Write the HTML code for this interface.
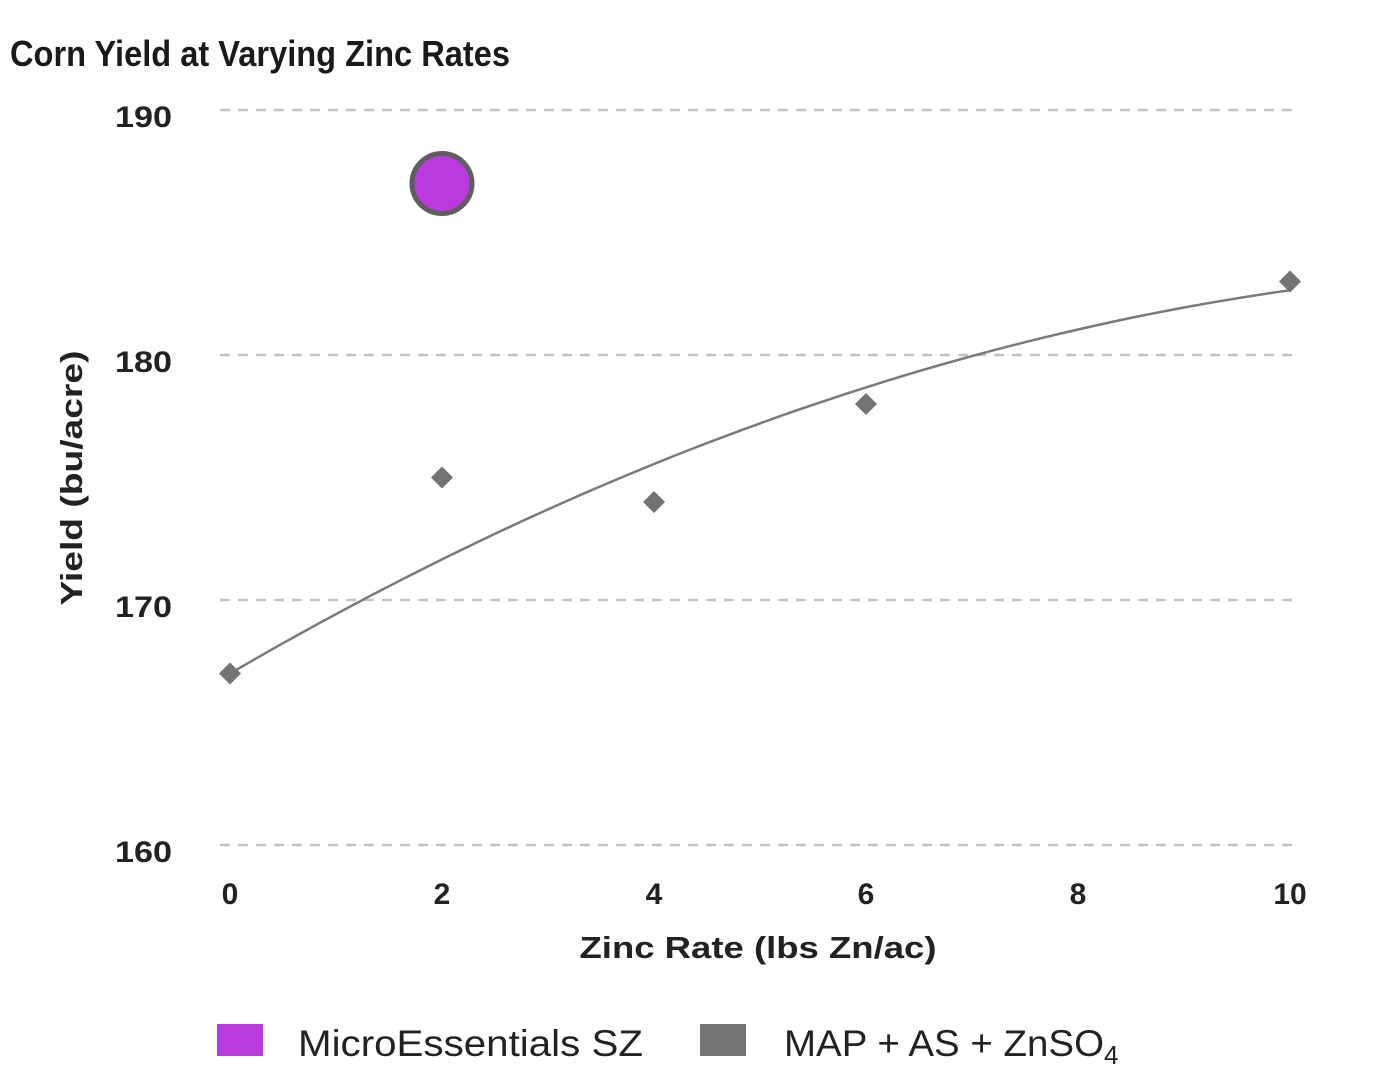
<!DOCTYPE html>
<html><head><meta charset="utf-8"><style>
html,body{margin:0;padding:0;background:#fff;}
svg{display:block;font-family:"Liberation Sans",sans-serif;}
</style></head><body>
<svg id="chart" width="1379" height="1087" viewBox="0 0 1379 1087">
<text x="10" y="66" font-family="'Liberation Sans Narrow','Liberation Sans',sans-serif" font-weight="bold" font-size="36" fill="#1a1a1a" textLength="500" lengthAdjust="spacingAndGlyphs">Corn Yield at Varying Zinc Rates</text>
<g id="grid"></g><g id="yticks"></g><g id="xticks"></g><g id="marks"></g>
<text x="0" y="0" transform="translate(82,478) rotate(-90)" text-anchor="middle" font-size="31" font-weight="bold" fill="#222" textLength="255" lengthAdjust="spacingAndGlyphs">Yield (bu/acre)</text>
<text x="758" y="958" text-anchor="middle" font-size="31" font-weight="bold" fill="#222" textLength="357" lengthAdjust="spacingAndGlyphs">Zinc Rate (lbs Zn/ac)</text>
<g>
<rect x="217" y="1024" width="46" height="32" fill="#bb3ae0"/>
<text x="298" y="1056" font-size="37" fill="#222" textLength="345" lengthAdjust="spacingAndGlyphs">MicroEssentials SZ</text>
<rect x="700" y="1024" width="46" height="32" fill="#737373"/>
<text x="784" y="1056" font-size="37" fill="#222"><tspan textLength="320" lengthAdjust="spacingAndGlyphs">MAP + AS + ZnSO</tspan><tspan font-size="26" dy="8">4</tspan></text>
</g>
</svg>
<script>
const yTicks=[160,170,180,190];
const xTicks=[0,2,4,6,8,10];
const mapX=[0,2,4,6,10];
const mapY=[167,175,174,178,183];
const meX=[2];
const meY=[187];
const NS="http://www.w3.org/2000/svg";
function xs(v){return 230+v*106;}
function ys(v){return 845-(v-160)*24.5;}
function mk(t,a,p){const e=document.createElementNS(NS,t);for(const k in a)e.setAttribute(k,a[k]);p.appendChild(e);return e;}
const grid=document.getElementById('grid'),yt=document.getElementById('yticks'),xt=document.getElementById('xticks'),marks=document.getElementById('marks');
yTicks.forEach(v=>{
 const l=mk('line',{x1:220,x2:1298,y1:ys(v),y2:ys(v),stroke:'#c4c4c4','stroke-width':2.5,'stroke-dasharray':'10 8'},grid);
 
 
 const t=mk('text',{x:172,y:ys(v)+17,'text-anchor':'end','font-size':30,'font-weight':'bold',fill:'#222',textLength:57,lengthAdjust:'spacingAndGlyphs'},yt);
 t.textContent=v;
 
 
});
xTicks.forEach(v=>{
 const t=mk('text',{x:xs(v),y:904,'text-anchor':'middle','font-size':30,'font-weight':'bold',fill:'#222'},xt);
 t.textContent=v;
 
 
});
// quadratic least-squares trendline with intercept fixed at first point
function fit(X,Y){const a=Y[0];let s2=0,s3=0,s4=0,t1=0,t2=0;
 for(let i=0;i<X.length;i++){const x=X[i],r=Y[i]-a;s2+=x*x;s3+=x*x*x;s4+=x*x*x*x;t1+=x*r;t2+=x*x*r;}
 const det=s2*s4-s3*s3;return [a,(t1*s4-s3*t2)/det,(s2*t2-s3*t1)/det];}
const c=fit(mapX,mapY);
let d='';const x0=mapX[0],x1=mapX[mapX.length-1];
for(let i=0;i<=60;i++){const x=x0+(x1-x0)*i/60;const y=c[0]+c[1]*x+c[2]*x*x;d+=(i?'L':'M')+xs(x).toFixed(1)+','+ys(y).toFixed(1);}
const tl=mk('path',{d:d,fill:'none',stroke:'#7a7a7a','stroke-width':2.5},marks);


mapX.forEach((x,i)=>{
 const cx=xs(x),cy=ys(mapY[i]),r=11;
 const p=mk('polygon',{points:`${cx},${cy-r} ${cx+r},${cy} ${cx},${cy+r} ${cx-r},${cy}`,fill:'#737373'},marks);
 
 
});
meX.forEach((x,i)=>{
 const p=mk('circle',{cx:xs(x),cy:ys(meY[i]),r:30,fill:'#bb3ae0',stroke:'#5e5e5e','stroke-width':5},marks);
 
 
});
</script>
</body></html>
